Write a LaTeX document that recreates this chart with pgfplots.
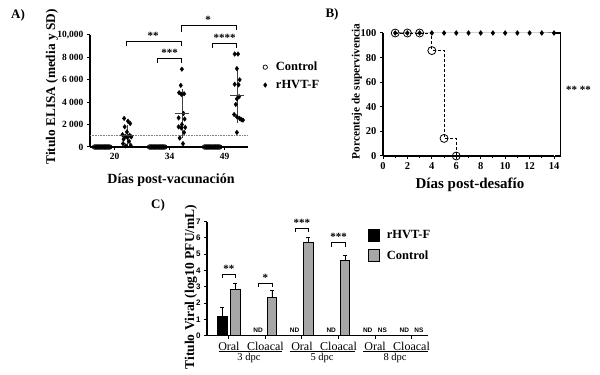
\documentclass[border=0pt]{standalone}
\usepackage{fontspec}
\setmainfont{Liberation Serif}
\newfontfamily\arialf{Liberation Sans}
\usepackage{pgfplots}
\pgfplotsset{compat=1.18}
\newcommand{\fs}[1]{\fontsize{#1}{#1}\selectfont}
\begin{document}
\begin{tikzpicture}[x=1pt,y=1pt]
\useasboundingbox (0,0) rectangle (600,375);
% ---------------- Panel A ----------------
\begin{axis}[
 at={(90pt,228pt)}, anchor=south west, scale only axis,
 width=158pt, height=112pt,
 xmin=0.5545, xmax=3.427, ymin=0, ymax=10000,
 axis lines=left, axis line style={-, line width=1.1pt},
 tick align=outside, major tick length=3pt,
 tick style={line width=1pt, black},
 xtick={1,2,3}, xticklabels={20,34,49},
 ytick={0,2000,4000,6000,8000,10000},
 yticklabels={0,2 000,4 000,6 000,8 000,{10,000}},
 scaled y ticks=false,
 ticklabel style={font=\bfseries\fs{9.5}},
 clip=false,
 legend style={at={(1.094,0.76)}, anchor=north west, draw=none, fill=none,
   font=\bfseries\fs{12.5}, row sep=8pt, inner sep=0pt, nodes={inner sep=0pt},
   /tikz/every odd column/.style={column sep=8.5pt}},
 legend cell align=left,
]
\addplot[only marks, mark=o, mark size=2.2pt, mark options={line width=0.7pt}, black] coordinates {
(0.635,0)(0.655,0)(0.675,0)(0.695,0)(0.715,0)(0.735,0)(0.755,0)(0.775,0)(0.795,0)(0.815,0)(0.835,0)(0.855,0)(0.875,0)(0.895,0)(0.915,0)
(1.635,0)(1.655,0)(1.675,0)(1.695,0)(1.715,0)(1.735,0)(1.755,0)(1.775,0)(1.795,0)(1.815,0)(1.835,0)(1.855,0)(1.875,0)(1.895,0)(1.915,0)
(2.635,0)(2.655,0)(2.675,0)(2.695,0)(2.715,0)(2.735,0)(2.755,0)(2.775,0)(2.795,0)(2.815,0)(2.835,0)(2.855,0)(2.875,0)(2.895,0)(2.915,0)
};
\addplot[only marks, mark=diamond*, mark size=2.3pt, black] coordinates {
(1.175,2550)(1.245,2300)(1.285,2100)(1.185,1800)(1.225,1350)(1.145,1100)(1.275,1050)(1.195,950)(1.305,900)(1.235,850)(1.165,700)(1.265,500)(1.155,300)(1.295,150)(1.205,100)
(2.225,6950)(2.205,5500)(2.175,4850)(2.265,4750)(2.215,4700)(2.255,3000)(2.165,2600)(2.275,2500)(2.225,2000)(2.165,1800)(2.285,1750)(2.215,1700)(2.265,1300)(2.185,800)(2.245,300)
(3.185,8300)(3.245,8300)(3.225,7000)(3.275,6000)(3.185,5600)(3.255,5550)(3.265,4500)(3.225,4300)(3.205,3800)(3.175,2900)(3.225,2700)(3.275,2550)(3.305,2450)(3.335,2400)(3.225,1300)
};
\legend{Control, rHVT-F}
\addplot[forget plot, only marks, mark=-, mark size=7pt, mark options={line width=0.8pt, black!75}, black!75,
  error bars/.cd, y dir=both, y explicit, error mark=-,
  error mark options={mark size=2.5pt, line width=0.6pt, black!75},
  error bar style={line width=0.6pt, black!75}]
 coordinates {(1.225,1050) +- (0,720) (2.225,3000) +- (0,1950) (3.225,4650) +- (0,2300)};
\addplot[forget plot, densely dotted, gray, line width=0.6pt] coordinates {(0.5545,1000)(3.427,1000)};
% brackets
\draw[line width=1.1pt] (axis cs:1.225,9040) -- (axis cs:1.225,9430) -- (axis cs:2.225,9430) -- (axis cs:2.225,9040);
\node[font=\bfseries\fs{11}] at (axis cs:1.7,9950) {**};
\draw[line width=1.1pt] (axis cs:1.775,7530) -- (axis cs:1.775,7880) -- (axis cs:2.225,7880) -- (axis cs:2.225,7530);
\node[font=\bfseries\fs{11}] at (axis cs:2.0,8400) {***};
\draw[line width=1.1pt] (axis cs:2.225,10230) -- (axis cs:2.225,10830) -- (axis cs:3.225,10830) -- (axis cs:3.225,10470);
\node[font=\bfseries\fs{11}] at (axis cs:2.7,11350) {*};
\draw[line width=1.1pt] (axis cs:2.775,8870) -- (axis cs:2.775,9220) -- (axis cs:3.225,9220) -- (axis cs:3.225,8870);
\node[font=\bfseries\fs{11}] at (axis cs:3.0,9700) {****};
\end{axis}
\node[font=\bfseries\fs{13}] at (18,360) {A)};
\node[font=\bfseries\fs{13.3}, rotate=90] at (52,288) {Titulo ELISA (media y SD)};
\node[font=\bfseries\fs{14}] at (171,195) {Días post-vacunación};
% ---------------- Panel B ----------------
\begin{axis}[
 at={(383pt,219pt)}, anchor=south west, scale only axis,
 width=171pt, height=123pt,
 xmin=0, xmax=14, ymin=0, ymax=100,
 axis lines=left, axis line style={-, line width=1.1pt},
 tick align=outside, major tick length=3pt, minor tick length=2pt,
 tick style={line width=1pt, black},
 xtick={0,2,...,14}, minor xtick={1,3,...,13},
 ytick={0,20,...,100},
 ticklabel style={font=\bfseries\fs{10.5}},
 /pgf/number format/assume math mode=true,
 clip=false,
]
\addplot[const plot, densely dashed, black, line width=0.8pt, mark=o, mark size=4pt, mark options={solid, line width=0.8pt}]
 coordinates {(1,100)(2,100)(3,100)(4,85.7)(5,14.3)(6,0)};
\addplot[gray, line width=1pt, mark=diamond*, mark size=2pt, mark options={black, fill=black}]
 coordinates {(1,100)(2,100)(3,100)(4,100)(5,100)(6,100)(7,100)(8,100)(9,100)(10,100)(11,100)(12,100)(13,100)(14,100)};
\draw[line width=1.1pt] (axis cs:14.1,100) -- (axis cs:14.5,100) -- (axis cs:14.5,0) -- (axis cs:14.1,0);
\node[font=\bfseries\fs{11}] at (axis cs:16.0,54) {** **};
\end{axis}
\node[font=\bfseries\fs{13}] at (332,361) {B)};
\node[font=\bfseries\fs{11.3}, rotate=90] at (357,283.5) {Porcentaje de supervivencia};
\node[font=\bfseries\fs{15}] at (470,190) {Días post-desafío};
% ---------------- Panel C ----------------
\begin{axis}[
 at={(207pt,39.3pt)}, anchor=south west, scale only axis,
 width=221pt, height=114pt,
 xmin=0.4, xmax=6.45, ymin=0, ymax=7,
 ybar, bar width=9.5pt,
 axis lines=left, axis line style={-, line width=1.1pt},
 tick align=outside, major tick length=3pt,
 tick style={line width=1pt, black},
 xtick={1,2,3,4,5,6}, xticklabels={Oral,Cloacal,Oral,Cloacal,Oral,Cloacal},
 xticklabel style={font=\fs{12}},
 ytick={0,1,...,7},
 yticklabel style={font=\arialf\bfseries\fs{8}},
 /pgf/number format/assume math mode=true,
 clip=false,
 legend style={at={(0.729,0.94)}, anchor=north west, draw=none, fill=none,
   font=\bfseries\fs{12.5}, row sep=8pt, inner sep=0pt, nodes={inner sep=0pt},
   /tikz/every odd column/.style={column sep=7pt}},
 legend cell align=left,
]
\addplot[fill=black, draw=black, line width=0.6pt, bar shift=-6.5pt,
  legend image code/.code={\draw[fill=black, draw=black, line width=0.6pt] (0pt,-6pt) rectangle (11pt,6pt);},
  error bars/.cd, y dir=plus, y explicit, error bar style={line width=0.8pt, black}]
 coordinates {(1,1.22) +- (0,0.55)};
\addplot[fill=gray!70, draw=black, line width=0.6pt, bar shift=6.5pt,
  legend image code/.code={\draw[fill=gray!70, draw=black, line width=0.6pt] (0pt,-6pt) rectangle (11pt,6pt);},
  error bars/.cd, y dir=plus, y explicit, error bar style={line width=0.8pt, black}]
 coordinates {(1,2.85) +- (0,0.35) (2,2.33) +- (0,0.45) (3,5.75) +- (0,0.27) (4,4.62) +- (0,0.30)};
\legend{rHVT-F, Control}
% brackets
\draw[line width=1pt] (axis cs:0.82,3.55) -- (axis cs:0.82,3.77) -- (axis cs:1.18,3.77) -- (axis cs:1.18,3.55);
\node[font=\bfseries\fs{11}] at (axis cs:1,4.1) {**};
\draw[line width=1pt] (axis cs:1.82,3.0) -- (axis cs:1.82,3.22) -- (axis cs:2.18,3.22) -- (axis cs:2.18,3.0);
\node[font=\bfseries\fs{11}] at (axis cs:2,3.55) {*};
\draw[line width=1pt] (axis cs:2.82,6.35) -- (axis cs:2.82,6.6) -- (axis cs:3.18,6.6) -- (axis cs:3.18,6.35);
\node[font=\bfseries\fs{11}] at (axis cs:3,6.95) {***};
\draw[line width=1pt] (axis cs:3.82,5.45) -- (axis cs:3.82,5.7) -- (axis cs:4.18,5.7) -- (axis cs:4.18,5.45);
\node[font=\bfseries\fs{11}] at (axis cs:4,6.05) {***};
% ND / NS
\node[font=\arialf\bfseries\fs{6.5}] at (axis cs:1.8,0.32) {ND};
\node[font=\arialf\bfseries\fs{6.5}] at (axis cs:2.8,0.32) {ND};
\node[font=\arialf\bfseries\fs{6.5}] at (axis cs:3.8,0.32) {ND};
\node[font=\arialf\bfseries\fs{6.5}] at (axis cs:4.8,0.32) {ND};
\node[font=\arialf\bfseries\fs{6.5}] at (axis cs:5.8,0.32) {ND};
\node[font=\arialf\bfseries\fs{6.5}] at (axis cs:5.2,0.32) {NS};
\node[font=\arialf\bfseries\fs{6.5}] at (axis cs:6.2,0.32) {NS};
% group underlines
\draw[line width=0.8pt] (axis cs:0.72,-0.97) -- (axis cs:2.45,-0.97);
\draw[line width=0.8pt] (axis cs:2.67,-0.97) -- (axis cs:4.45,-0.97);
\draw[line width=0.8pt] (axis cs:4.67,-0.97) -- (axis cs:6.45,-0.97);
\node[font=\fs{10.5}] at (axis cs:1.55,-1.38) {3 dpc};
\node[font=\fs{10.5}] at (axis cs:3.55,-1.38) {5 dpc};
\node[font=\fs{10.5}] at (axis cs:5.55,-1.38) {8 dpc};
\end{axis}
\node[font=\bfseries\fs{13}] at (158,170) {C)};
\node[font=\bfseries\fs{13.5}, rotate=90] at (191,88) {Titulo Viral (log10 PFU/mL)};
\end{tikzpicture}
\end{document}
